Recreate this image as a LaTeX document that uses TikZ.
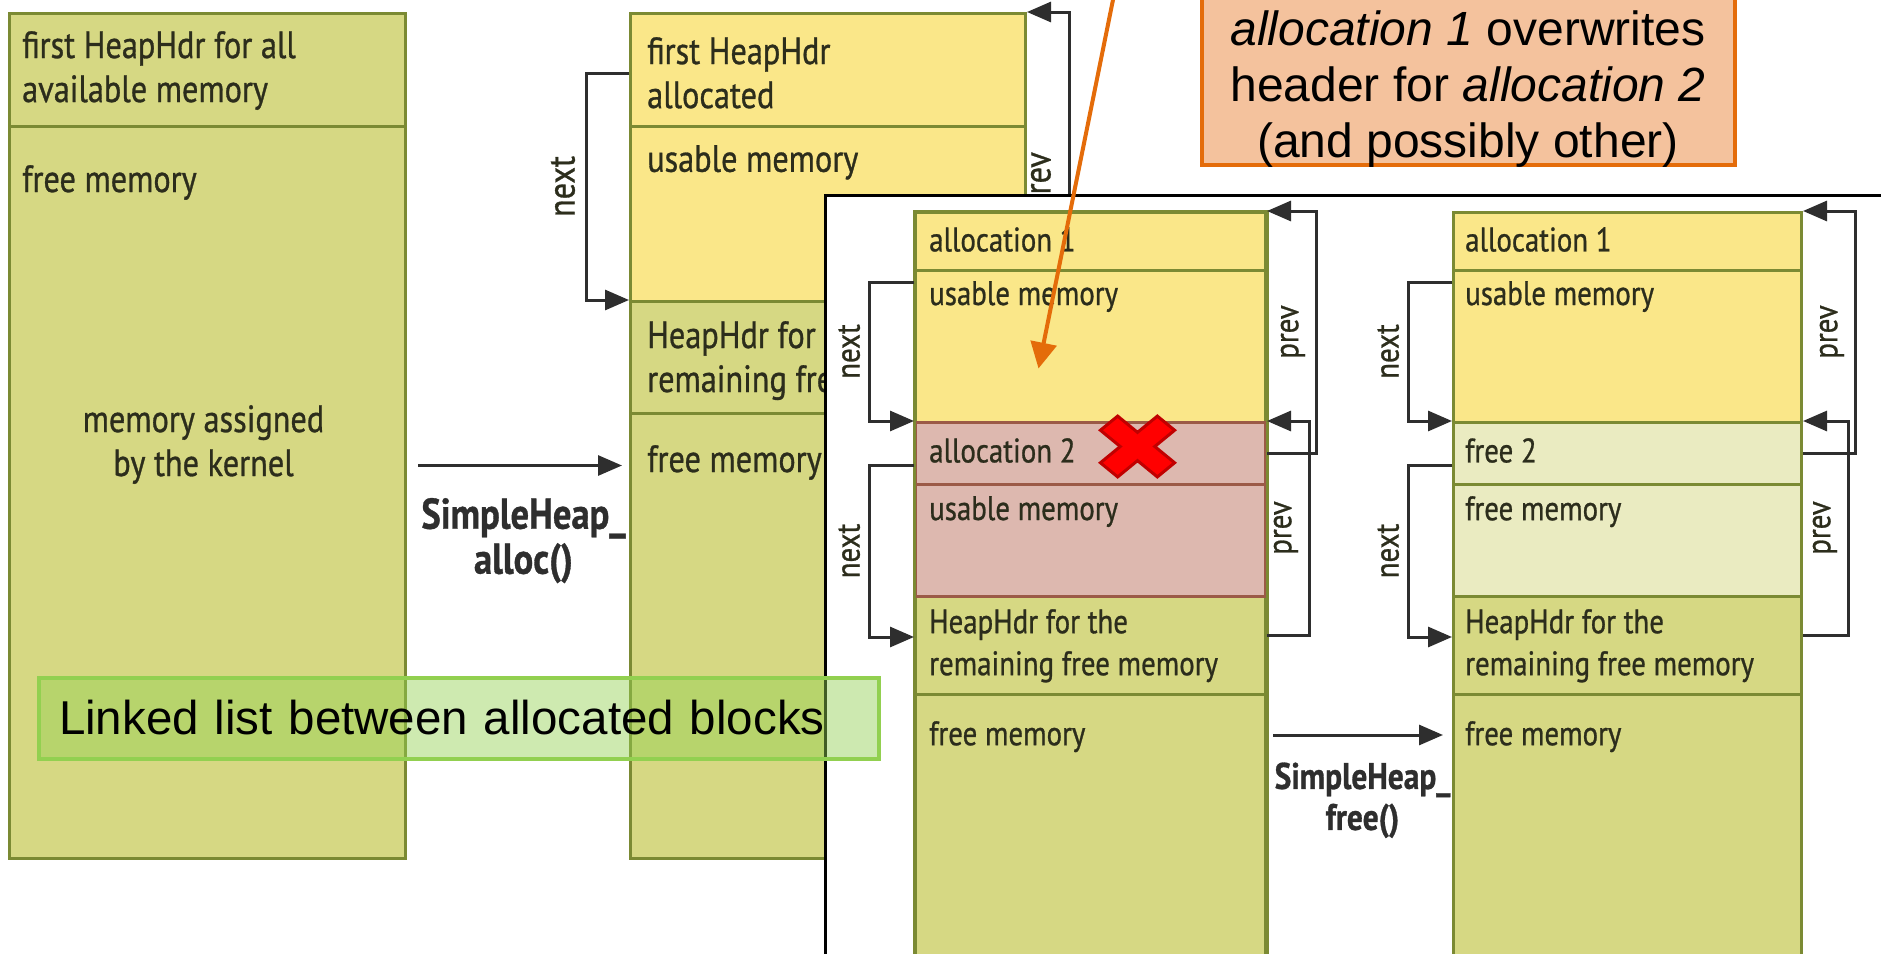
\documentclass[tikz,border=0pt]{standalone}
\usepackage{fontspec}
\setmainfont{Liberation Sans}
\newfontfamily\memfont[FakeStretch=0.85,FakeBold=0.8]{PT Sans}
\usetikzlibrary{arrows.meta,positioning}
\definecolor{olive}{HTML}{D6D883}
\definecolor{alloc}{HTML}{FAE789}
\definecolor{bad}{HTML}{DDB8AF}
\definecolor{freed}{HTML}{EAEBC1}
\definecolor{secline}{HTML}{7B8A33}
\definecolor{badline}{HTML}{9B5A47}
\definecolor{memink}{HTML}{2C2D1C}
\definecolor{linkink}{HTML}{2E2E2E}
\definecolor{notefill}{HTML}{F4C29D}
\definecolor{noteline}{HTML}{E46C0A}
\definecolor{listgreen}{HTML}{92D050}
\definecolor{crossred}{HTML}{FF0000}
\definecolor{crossline}{HTML}{C00000}
\begin{document}
\begin{tikzpicture}[x=1pt,y=-1pt,
  sec/.style={draw=secline,line width=3pt,inner sep=0pt,anchor=north west},
  memtxt/.style={font=\memfont\fontsize{38}{44}\selectfont,text=memink,inner sep=0pt,anchor=north west,align=left,yshift=-2pt},
  smalltxt/.style={memtxt,font=\memfont\fontsize{34}{42}\selectfont},
  link/.style={draw=linkink,line width=3pt,-{Triangle[length=24pt,width=20pt]}},
  nextlbl/.style={font=\memfont\fontsize{34}{40}\selectfont,text=memink,rotate=90,anchor=south,inner sep=0pt,outer sep=9pt},
  prevlbl/.style={nextlbl,outer sep=11pt},
  calllbl/.style={font=\memfont\bfseries\fontsize{43}{45}\selectfont,text=linkink,align=center,inner sep=0pt}]
\useasboundingbox (0,0) rectangle (1881,953);
\clip (0,0) rectangle (1881,953);

\foreach \nm/\ya/\yb/\dy/\txt in {a1/12/125/17/{first HeapHdr for all\\available memory},a2/125/857/38/{free memory}}{
  \node[sec,fill=olive,minimum width=396pt,minimum height=\yb pt-\ya pt] (\nm) at (8,\ya) {};
  \node[memtxt] (\nm t) at ([xshift=14pt,yshift=-\dy pt]\nm.north west) {\txt};
}
\node[memtxt,anchor=center,align=center] (kernel) at ([xshift=-4pt,yshift=50pt]a2.center) {memory assigned\\by the kernel};

\foreach \nm/\ya/\yb/\col/\dy/\txt in {b1/12/125/alloc/23/{first HeapHdr\\allocated},b2/125/300/alloc/18/{usable memory},
  b3/300/412/olive/19/{HeapHdr for the\\remaining free memory},b4/412/857/olive/31/{free memory}}{
  \node[sec,fill=\col,minimum width=395pt,minimum height=\yb pt-\ya pt] (\nm) at (629,\ya) {};
  \node[memtxt] (\nm t) at ([xshift=18pt,yshift=-\dy pt]\nm.north west) {\txt};
}

\draw[link,shorten >=7pt] ([xshift=11pt,yshift=27pt]a2.east) coordinate (allocfrom) -- (allocfrom -| b4.west)
  node[midway,below=31pt,calllbl] (alloclbl) {SimpleHeap\_\\alloc()};
\draw[link] ([yshift=-61pt]b1.north west) -- ++(-43,0) |- node[pos=.25,nextlbl,font=\memfont\fontsize{38}{44}\selectfont,outer sep=11pt] (bnext) {next} (b3.north west);
\draw[link] ([yshift=-52pt]b3.north east) -- ++(42,0) |- node[pos=.25,prevlbl,font=\memfont\fontsize{38}{44}\selectfont] (bprev) {prev} (b1.north east);

\node[draw=black,fill=white,line width=3pt,inner sep=0pt,anchor=north west,minimum width=1100pt,minimum height=800pt] (inset) at (824,194) {};

\foreach \nm/\ya/\yb/\col/\lc/\dy/\txt in {c1a/211/269/alloc/secline/14/{allocation 1},c1b/269/421/alloc/secline/10/{usable memory},
  c1e/595/693/olive/secline/12/{HeapHdr for the\\remaining free memory},c1f/693/990/olive/secline/26/{free memory},
  c1c/421/483/bad/badline/15/{allocation 2},c1d/483/595/bad/badline/11/{usable memory}}{
  \node[sec,fill=\col,draw=\lc,minimum width=350pt,minimum height=\yb pt-\ya pt] (\nm) at (914,\ya) {};
  \node[smalltxt] (\nm t) at ([xshift=15pt,yshift=-\dy pt]\nm.north west) {\txt};
}
\draw[secline,line width=3pt] (c1a.north west) rectangle (c1f.south east);

\foreach \nm/\ya/\yb/\col/\dy/\txt in {c2a/211/269/alloc/14/{allocation 1},c2b/269/421/alloc/10/{usable memory},
  c2c/421/483/freed/15/{free 2},c2d/483/595/freed/11/{free memory},
  c2e/595/693/olive/12/{HeapHdr for the\\remaining free memory},c2f/693/990/olive/26/{free memory}}{
  \node[sec,fill=\col,minimum width=348pt,minimum height=\yb pt-\ya pt] (\nm) at (1452,\ya) {};
  \node[smalltxt] (\nm t) at ([xshift=13pt,yshift=-\dy pt]\nm.north west) {\txt};
}

\draw[link] ([yshift=-13pt]c1b.north west) -- ++(-45,0) |- node[pos=.25,nextlbl] (c1n1) {next} (c1c.north west);
\draw[link] ([yshift=-44pt]c1c.north west) -- ++(-45,0) |- node[pos=.25,nextlbl] (c1n2) {next} ([yshift=-42pt]c1e.north west);
\draw[link] ([yshift=-32pt]c1c.north east) -- ++(49,0) |- node[pos=.25,prevlbl] (c1p1) {prev} (c1a.north east);
\draw[link] ([yshift=-40pt]c1e.north east) -- ++(42,0) |- node[pos=.25,prevlbl] (c1p2) {prev} (c1c.north east);

\draw[link] ([yshift=-13pt]c2b.north west) -- ++(-44,0) |- node[pos=.25,nextlbl] (c2n1) {next} (c2c.north west);
\draw[link] ([yshift=-44pt]c2c.north west) -- ++(-44,0) |- node[pos=.25,nextlbl] (c2n2) {next} ([yshift=-42pt]c2e.north west);
\draw[link] ([yshift=-32pt]c2c.north east) -- ++(52,0) |- node[pos=.25,prevlbl] (c2p1) {prev} (c2a.north east);
\draw[link] ([yshift=-40pt]c2e.north east) -- ++(45,0) |- node[pos=.25,prevlbl] (c2p2) {prev} (c2c.north east);

\draw[link,shorten >=9pt] ([xshift=6pt,yshift=108pt]c1f.east) coordinate (freefrom) -- (freefrom -| c2f.west)
  node[midway,below=26pt,calllbl,font=\memfont\bfseries\fontsize{37}{41}\selectfont] (freelbl) {SimpleHeap\_\\free()};

\begin{scope}[shift={([xshift=47pt,yshift=7pt]c1c.center)},xscale=1.22,rotate=45]
  \draw[fill=crossred,draw=crossline,line width=3pt] (-10,-33) -- (10,-33) -- (10,-10) -- (33,-10) -- (33,10) -- (10,10)
    -- (10,33) -- (-10,33) -- (-10,10) -- (-33,10) -- (-33,-10) -- (-10,-10) -- cycle;
\end{scope}

\node[anchor=west,draw=listgreen,line width=4pt,fill=listgreen,fill opacity=.45,text opacity=1,minimum height=81pt,
  text width=800pt,inner xsep=20pt,align=left,font=\fontsize{47.5}{56}\selectfont] (list) at (37,718) {Linked list between allocated blocks};

\node[draw=noteline,fill=notefill,line width=4pt,anchor=south,minimum width=533pt,minimum height=220pt] (notebox) at (1468,167) {};
\node[font=\fontsize{48}{56}\selectfont,align=center,inner sep=0pt] (note) at (1468,89)
  {\textit{allocation 1} overwrites\\header for \textit{allocation 2}\\(and possibly other)};
\coordinate (notesrc) at (1118,-25);
\coordinate (hit) at ([xshift=-52pt,yshift=-22pt]c1b.center);
\draw[draw=noteline,line width=4pt,-{Triangle[length=26pt,width=26pt]}] (notesrc) -- (hit);
\end{tikzpicture}
\end{document}
